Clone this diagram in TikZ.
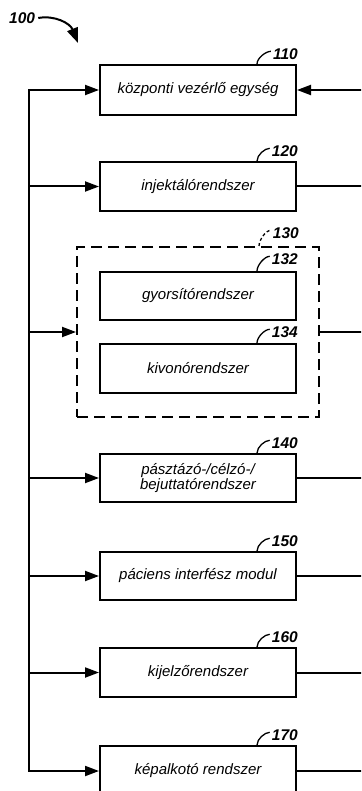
\documentclass[tikz,border=0pt]{standalone}
\usepackage{fontspec}
\setmainfont{Liberation Sans}
\usetikzlibrary{arrows.meta}
\begin{document}
\begin{tikzpicture}[x=1pt,y=-1pt,
  box/.style={draw, line width=2pt, minimum width=196pt, minimum height=49pt,
    inner sep=2pt, font=\fontsize{15}{14}\selectfont\itshape, align=center},
  num/.style={font=\fontsize{15.5}{15}\selectfont\bfseries\itshape, inner sep=0pt, anchor=south east},
  ln/.style={line width=2pt},
  arr/.style={line width=2pt, -{Triangle[length=14pt,width=10pt]}},
  tick/.style={line width=1.3pt}]
\useasboundingbox (0,0) rectangle (361,791);
\clip (0,0) rectangle (361,791);

% boxes
\node[box, minimum height=50pt] (b110) at (198,90) {központi vezérlő egység};
\node[box] (b120) at (198,186.5) {injektálórendszer};
\node[draw, dash pattern=on 11pt off 6pt, line width=2pt, minimum width=242pt, minimum height=170pt] (b130) at (198,332) {};
\node[box, minimum height=48pt] (b132) at (198,296) {gyorsítórendszer};
\node[box] (b134) at (198,368.5) {kivonórendszer};
\node[box, minimum height=48pt] (b140) at (198,478) {pásztázó-/célzó-/\\bejuttatórendszer};
\node[box, minimum height=48pt] (b150) at (198,576) {páciens interfész modul};
\node[box] (b160) at (198,672.5) {kijelzőrendszer};
\node[box, minimum height=50pt] (b170) at (198,771) {képalkotó rendszer};

% reference numerals
\node[num] (l110) at ([xshift=1pt,yshift=4pt]b110.north east) {110};
\node[num] (l120) at ([xshift=1pt,yshift=4pt]b120.north east) {120};
\node[num] (l130) at ([xshift=-21pt,yshift=7pt]b130.north east) {130};
\node[num] (l132) at ([xshift=1pt,yshift=6pt]b132.north east) {132};
\node[num] (l134) at ([xshift=1pt,yshift=5pt]b134.north east) {134};
\node[num] (l140) at ([xshift=1pt,yshift=4pt]b140.north east) {140};
\node[num] (l150) at ([xshift=1pt,yshift=4pt]b150.north east) {150};
\node[num] (l160) at ([xshift=1pt,yshift=4pt]b160.north east) {160};
\node[num] (l170) at ([xshift=1pt,yshift=4pt]b170.north east) {170};

\foreach \b in {110,120,132,134,140,150,160,170}{
  \draw[tick] ([xshift=-40pt]b\b.north east) .. controls +(0,-6) and +(-5,0) .. ([xshift=-2pt,yshift=3pt]l\b.west);
}
\draw[tick, dash pattern=on 3pt off 2.5pt] ([xshift=-61pt]b130.north east) .. controls +(0,-6) and +(-5,0) .. ([xshift=-2pt,yshift=3pt]l130.west);

% figure number
\node[num, anchor=west] (l100) at (9,18) {100};
\coordinate (a100) at (78,43);
\draw[line width=2pt, -{Triangle[length=15pt,width=11pt]}] ([xshift=3pt]l100.east) .. controls +(16,-3) and +(-8,-20) .. (a100);

% bus and connectors
\coordinate (bus) at (29,0);
\coordinate (rr) at (365,0);
\draw[ln, line cap=rect] (bus |- b110) -- (bus |- b170);
\foreach \b in {110,120,130,140,150,160,170}{
  \draw[arr] (bus |- b\b) -- (b\b.west);
}
\draw[arr] (rr |- b110) -- (b110.east);
\foreach \b in {120,130,140,150,160,170}{
  \draw[ln] (b\b.east) -- (rr |- b\b);
}
\end{tikzpicture}
\end{document}
